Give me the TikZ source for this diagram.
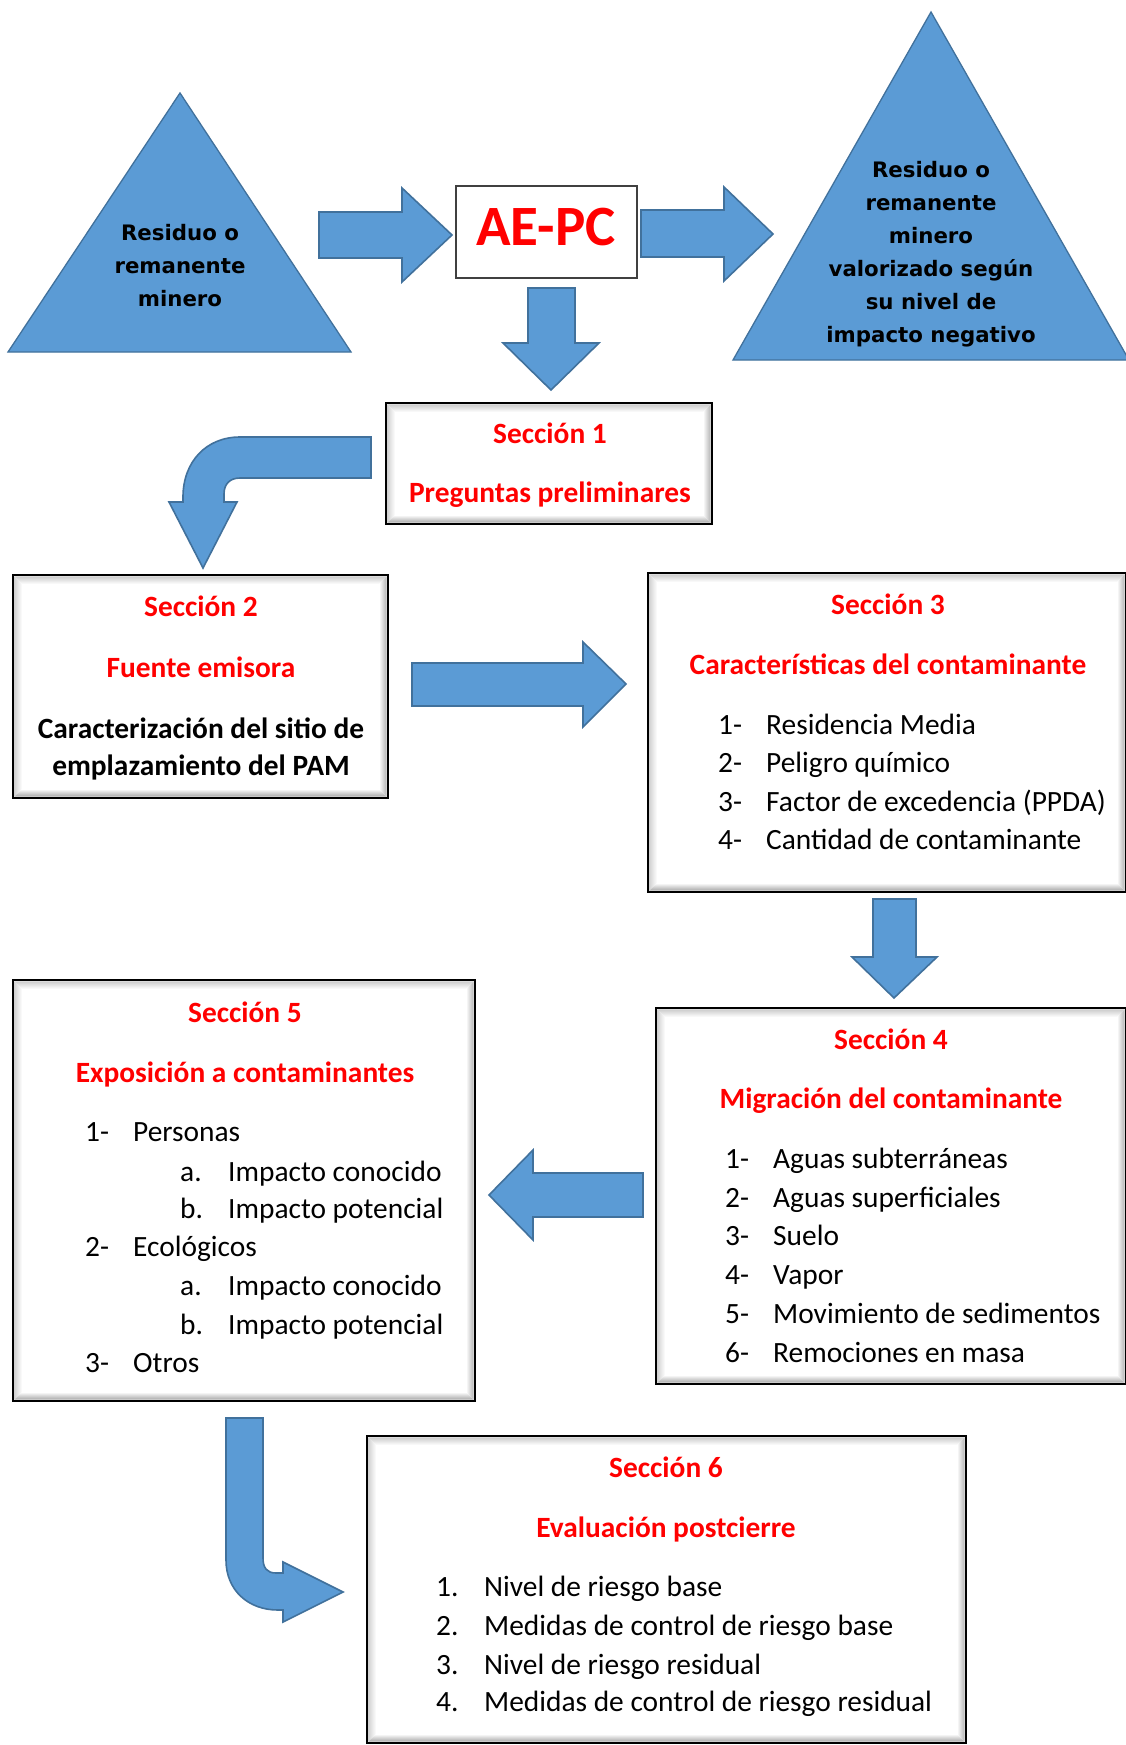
\documentclass[tikz,border=0pt]{standalone}
\usepackage{fontspec}
\setmainfont{Carlito}
\newfontfamily\trifont{DejaVu Sans}
\usetikzlibrary{calc,fit}
\definecolor{bfill}{RGB}{91,155,213}
\definecolor{bline}{RGB}{65,113,156}
\definecolor{tred}{RGB}{255,0,0}
\tikzset{
  barrow/.style={fill=bfill, draw=bline, line width=1.6, line join=miter},
  tri/.style={fill=bfill, draw=bline, line width=1.3},
  tritext/.style={font=\trifont\bfseries\fontsize{21.3}{25}\selectfont, anchor=base, inner sep=0},
  sec/.style={fill=white, draw=black, line width=2.6, inner sep=0, outer sep=0},
  ttl/.style={font=\bfseries\fontsize{29.4}{35}\selectfont, text=tred, anchor=base, inner sep=0},
  itm/.style={font=\fontsize{29.4}{35}\selectfont, anchor=base west, inner sep=0},
  bld/.style={font=\bfseries\fontsize{29.4}{35}\selectfont, anchor=base, inner sep=0},
}
\newcommand\bevel[1]{%
  \shade[top color=gray!40, bottom color=white]
    ($(#1.north west)+(1.3,1.3)$) -- ($(#1.north east)+(-1.3,1.3)$) --
    ($(#1.north east)+(-9,9)$) -- ($(#1.north west)+(9,9)$) -- cycle;
  \shade[left color=gray!35, right color=white]
    ($(#1.north west)+(1.3,1.3)$) -- ($(#1.north west)+(9,9)$) --
    ($(#1.south west)+(9,-9)$) -- ($(#1.south west)+(1.3,-1.3)$) -- cycle;
  \shade[bottom color=gray!70, top color=white]
    ($(#1.south west)+(1.3,-1.3)$) -- ($(#1.south west)+(9,-9)$) --
    ($(#1.south east)+(-9,-9)$) -- ($(#1.south east)+(-1.3,-1.3)$) -- cycle;
  \shade[right color=gray!60, left color=white]
    ($(#1.north east)+(-1.3,1.3)$) -- ($(#1.south east)+(-1.3,-1.3)$) --
    ($(#1.south east)+(-9,-9)$) -- ($(#1.north east)+(-9,9)$) -- cycle;
  \draw[black, line width=2.6] (#1.north west) rectangle (#1.south east);
}
\begin{document}
\begin{tikzpicture}[x=1pt,y=-1pt]
\path[use as bounding box, fill=white] (0,0) rectangle (1126,1745);

% ---------- triangles ----------
\path[tri] (8,352) -- (180,93) -- (351,352) -- cycle;
\node[tritext] (t1a) at (180,240) {Residuo o};
\node[tritext] (t1b) at (180,273) {remanente};
\node[tritext] (t1c) at (180,306) {minero};

\path[tri] (733,360) -- (931,12) -- (1129,360) -- cycle;
\node[tritext] (t2a) at (931,177) {Residuo o};
\node[tritext] (t2b) at (931,210) {remanente};
\node[tritext] (t2c) at (931,243) {minero};
\node[tritext] (t2d) at (931,276) {valorizado según};
\node[tritext] (t2e) at (931,309) {su nivel de};
\node[tritext] (t2f) at (931,342) {impacto negativo};

% ---------- AE-PC ----------
\node[draw=black!75, line width=1.5, fill=white, inner sep=0, outer sep=0, fit={(456,186)(637,278)}] (aepc) {};
\node[font=\bfseries\fontsize{57}{62}\selectfont, text=tred, anchor=base, inner sep=0] (aepct) at (546,245) {AE-PC};

% ---------- block arrows (top) ----------
\path[barrow] (319,212) -- (402,212) -- (402,188) -- (452,235) -- (402,282) -- (402,258) -- (319,258) -- cycle;
\path[barrow] (641,210) -- (724,210) -- (724,187) -- (773,234) -- (724,281) -- (724,257) -- (641,257) -- cycle;
\path[barrow] (528,288) -- (575,288) -- (575,343) -- (599,343) -- (551,390) -- (503,343) -- (528,343) -- cycle;

% ---------- Sección 1 ----------
\node[sec, fit={(386,403)(712,524)}] (s1) {};
\bevel{s1}
\node[ttl] (s1a) at (550,443) {Sección 1};
\node[ttl] (s1b) at (550,502) {Preguntas preliminares};

% curved arrow s1 -> s2
\path[barrow] (371,437) -- (240,437) .. controls (206,437) and (183,462) .. (183,497)
  -- (183,502) -- (169,502) -- (203,568) -- (237,502) -- (224,502) -- (224,494)
  .. controls (224,484) and (230,478) .. (240,478) -- (371,478) -- cycle;

% ---------- Sección 2 ----------
\node[sec, fit={(13,575)(388,798)}] (s2) {};
\bevel{s2}
\node[ttl] (s2a) at (201,616) {Sección 2};
\node[ttl] (s2b) at (201,677) {Fuente emisora};
\node[bld] (s2c) at (201,738) {Caracterización del sitio de};
\node[bld] (s2d) at (201,775) {emplazamiento del PAM};

% arrow s2 -> s3
\path[barrow] (412,663) -- (583,663) -- (583,642) -- (626,684) -- (583,727) -- (583,706) -- (412,706) -- cycle;

% ---------- Sección 3 ----------
\node[sec, fit={(648,573)(1126,892)}] (s3) {};
\bevel{s3}
\node[ttl] (s3a) at (888,614) {Sección 3};
\node[ttl] (s3b) at (888,674) {Características del contaminante};
\foreach \n/\t/\y [count=\i] in {1-/Residencia Media/734, 2-/Peligro químico/772,
    3-/Factor de excedencia (PPDA)/811, 4-/Cantidad de contaminante/849}{
  \node[itm] (s3n\i) at (718,\y) {\n};
  \node[itm] (s3i\i) at (766,\y) {\t};
}

% arrow s3 -> s4
\path[barrow] (873,899) -- (916,899) -- (916,957) -- (937,957) -- (894,998) -- (852,957) -- (873,957) -- cycle;

% ---------- Sección 4 ----------
\node[sec, fit={(656,1008)(1126,1384)}] (s4) {};
\bevel{s4}
\node[ttl] (s4a) at (891,1049) {Sección 4};
\node[ttl] (s4b) at (891,1108) {Migración del contaminante};
\foreach \n/\t/\y [count=\i] in {1-/Aguas subterráneas/1168, 2-/Aguas superficiales/1207,
    3-/Suelo/1245, 4-/Vapor/1284, 5-/Movimiento de sedimentos/1323, 6-/Remociones en masa/1362}{
  \node[itm] (s4n\i) at (725,\y) {\n};
  \node[itm] (s4i\i) at (773,\y) {\t};
}

% arrow s4 -> s5
\path[barrow] (643,1173) -- (533,1173) -- (533,1150) -- (489,1195) -- (533,1240) -- (533,1217) -- (643,1217) -- cycle;

% ---------- Sección 5 ----------
\node[sec, fit={(13,980)(475,1401)}] (s5) {};
\bevel{s5}
\node[ttl] (s5a) at (245,1022) {Sección 5};
\node[ttl] (s5b) at (245,1082) {Exposición a contaminantes};
\node[itm] (s5n1) at (85,1141) {1-};  \node[itm] (s5i1) at (133,1141) {Personas};
\node[itm] (s5l1) at (180,1181) {a.}; \node[itm] (s5j1) at (228,1181) {Impacto conocido};
\node[itm] (s5l2) at (180,1218) {b.}; \node[itm] (s5j2) at (228,1218) {Impacto potencial};
\node[itm] (s5n2) at (85,1256) {2-};  \node[itm] (s5i2) at (133,1256) {Ecológicos};
\node[itm] (s5l3) at (180,1295) {a.}; \node[itm] (s5j3) at (228,1295) {Impacto conocido};
\node[itm] (s5l4) at (180,1334) {b.}; \node[itm] (s5j4) at (228,1334) {Impacto potencial};
\node[itm] (s5n3) at (85,1372) {3-};  \node[itm] (s5i3) at (133,1372) {Otros};

% curved arrow s5 -> s6
\path[barrow] (226,1418) -- (263,1418) -- (263,1558) .. controls (263,1568) and (267,1573) .. (276,1573)
  -- (283,1573) -- (283,1562) -- (343,1592) -- (283,1622) -- (283,1610) -- (278,1610)
  .. controls (248,1610) and (226,1590) .. (226,1560) -- cycle;

% ---------- Sección 6 ----------
\node[sec, fit={(367,1436)(966,1743)}] (s6) {};
\bevel{s6}
\node[ttl] (s6a) at (666,1477) {Sección 6};
\node[ttl] (s6b) at (666,1537) {Evaluación postcierre};
\foreach \n/\t/\y [count=\i] in {1./Nivel de riesgo base/1596, 2./Medidas de control de riesgo base/1635,
    3./Nivel de riesgo residual/1674, 4./Medidas de control de riesgo residual/1711}{
  \node[itm] (s6n\i) at (436,\y) {\n};
  \node[itm] (s6i\i) at (484,\y) {\t};
}
\end{tikzpicture}
\end{document}
